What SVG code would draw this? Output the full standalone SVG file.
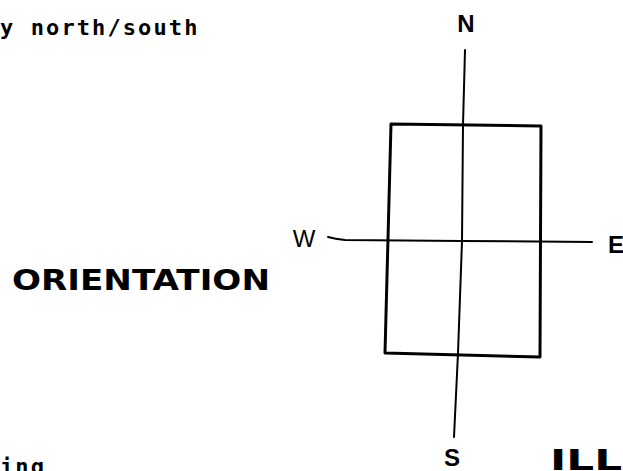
<svg xmlns="http://www.w3.org/2000/svg" width="623" height="471" viewBox="0 0 623 471">
<style>
.mono{font-family:"DejaVu Sans Mono","Liberation Mono",monospace;font-weight:bold;font-size:22px;letter-spacing:2.1px;fill:#000}
.title{font-family:"DejaVu Sans","Liberation Sans",sans-serif;font-weight:bold;fill:#000}
.hand{font-family:"Liberation Sans","DejaVu Sans",sans-serif;font-size:24px;fill:#000}
.ax{fill:none;stroke:#000;stroke-width:2;stroke-linecap:round;stroke-linejoin:round}
.box{fill:none;stroke:#000;stroke-width:3;stroke-linejoin:round}
</style>
<rect width="623" height="471" fill="#fff"/>
<g id="caption-top"><text class="mono" x="0" y="35">y north/south</text></g>
<g id="caption-bottom"><text class="mono" x="0" y="474">ing</text></g>
<g id="orientation-title"><text class="title" x="12" y="290" font-size="28" textLength="258" lengthAdjust="spacingAndGlyphs">ORIENTATION</text></g>
<g id="ill-title"><text class="title" x="550" y="470" font-size="28" textLength="72" lengthAdjust="spacingAndGlyphs">ILL</text></g>
<g id="building"><path class="box" d="M391,124 L541,126 L540,357 L385,353 Z"/></g>
<g id="connectors">
<path class="ax" d="M465,50 L463,125 L462,241 L458,353 L454,437"/>
<path class="ax" d="M328,237 Q335,239 345,240 L462,241 L592,242"/>
</g>
<g id="label-n"><text class="hand" x="466" y="32" text-anchor="middle" font-weight="bold">N</text></g>
<g id="label-w"><text class="hand" x="304" y="247" text-anchor="middle" font-size="22">W</text></g>
<g id="label-e"><text class="hand" x="608" y="253" font-size="24" font-weight="bold">E</text></g>
<g id="label-s"><text class="hand" x="452" y="466" text-anchor="middle" font-size="19" font-weight="bold">S</text></g>
</svg>
